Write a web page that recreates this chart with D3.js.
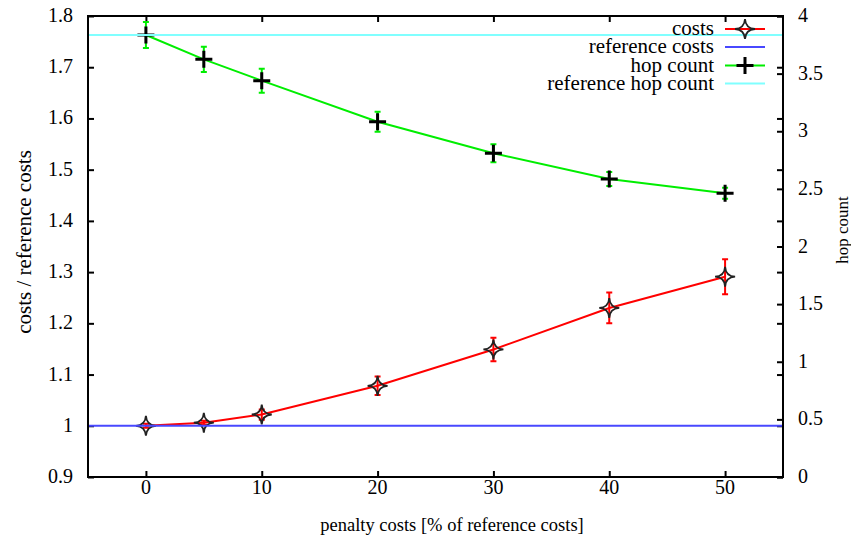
<!DOCTYPE html>
<html>
<head>
<meta charset="utf-8">
<script src="https://cdn.jsdelivr.net/npm/d3@7"></script>
<style>
  body { margin: 0; background: #fff; }
</style>
</head>
<body>
<div class="chart-area"></div>
<script>
var penalty = [0, 5, 10, 20, 30, 40, 50];
var costs = [1.0, 1.006, 1.022, 1.078, 1.149, 1.23, 1.291];
var costErr = [0.004, 0.004, 0.01, 0.018, 0.023, 0.03, 0.034];
var hops = [3.835, 3.624, 3.439, 3.083, 2.809, 2.586, 2.462];
var hopErr = [0.113, 0.11, 0.104, 0.087, 0.078, 0.061, 0.048];
var refCost = 1.0,
    refHop = 3.835;
var xTicks = [0, 10, 20, 30, 40, 50];
var yTicks = [0.9, 1, 1.1, 1.2, 1.3, 1.4, 1.5, 1.6, 1.7, 1.8];
var y2Ticks = [0, 0.5, 1, 1.5, 2, 2.5, 3, 3.5, 4];
var legendNames = ["costs", "reference costs", "hop count", "reference hop count"];

var chartWidth = 851,
    chartHeight = 538,
    plotLeft = 88, plotRight = 783, plotTop = 16, plotBottom = 477,
    tickLen = 6,
    font = "'Liberation Serif', 'Times New Roman', serif",
    svg = d3.select(".chart-area")
            .append("svg")
            .attr("width", chartWidth)
            .attr("height", chartHeight);

var x = d3.scaleLinear().domain([-5, 55]).range([plotLeft, plotRight]),
    y = d3.scaleLinear().domain([0.9, 1.8]).range([plotBottom, plotTop]),
    y2 = d3.scaleLinear().domain([0, 4]).range([plotBottom, plotTop]);

// axes, gnuplot style: ticks inside, mirrored
var fmt = function(d) { return String(d) };
svg.append("g").attr("transform", "translate(0," + plotBottom + ")")
   .call(d3.axisTop(x).tickValues(xTicks).tickSize(tickLen).tickFormat(""));
svg.append("g").attr("transform", "translate(0," + plotTop + ")")
   .call(d3.axisBottom(x).tickValues(xTicks).tickSize(tickLen).tickFormat(""));
svg.append("g").attr("transform", "translate(" + plotLeft + ",0)")
   .call(d3.axisRight(y).tickValues(yTicks).tickSize(tickLen).tickFormat(""));
svg.append("g").attr("transform", "translate(" + plotRight + ",0)")
   .call(d3.axisLeft(y).tickValues(yTicks).tickSize(tickLen).tickFormat(""));
svg.append("g").attr("transform", "translate(" + plotRight + ",0)")
   .call(d3.axisLeft(y2).tickValues(y2Ticks).tickSize(tickLen).tickFormat(""));
svg.selectAll(".domain").remove();
svg.selectAll(".tick line").attr("stroke", "#000").attr("stroke-width", 2);

var addText = function(sel, size) {
  return sel.append("text").style("font-family", font).style("font-size", size + "px").attr("fill", "#000");
};

xTicks.forEach(function(d) {
  addText(svg, 20)
     .attr("x", x(d))
     .attr("y", plotBottom + 17)
     .attr("text-anchor", "middle")
     .text(fmt(d));
});

yTicks.forEach(function(d) {
  addText(svg, 20)
     .attr("x", plotLeft - 15)
     .attr("y", y(d) + 6)
     .attr("text-anchor", "end")
     .text(fmt(d));
});

y2Ticks.forEach(function(d) {
  addText(svg, 20)
     .attr("x", plotRight + 15)
     .attr("y", y2(d) + 6)
     .text(fmt(d));
});

addText(svg, 18.5)
   .attr("x", 452)
   .attr("y", 531)
   .attr("text-anchor", "middle")
   .text("penalty costs [% of reference costs]");

addText(svg, 21)
   .attr("transform", "translate(31,242) rotate(-90)")
   .attr("text-anchor", "middle")
   .text("costs / reference costs");

addText(svg, 17)
   .attr("transform", "translate(848,230) rotate(-90)")
   .attr("text-anchor", "middle")
   .text("hop count");

// marker shapes
var starPath = function(r) {
  var k = r * 0.06;
  return "M0," + (-r) + "Q" + k + "," + (-k) + " " + r + ",0" +
         "Q" + k + "," + k + " 0," + r +
         "Q" + (-k) + "," + k + " " + (-r) + ",0" +
         "Q" + (-k) + "," + (-k) + " 0," + (-r) + "Z";
};
var plusPath = function(r) {
  return "M" + (-r) + ",0H" + r + "M0," + (-r) + "V" + r;
};

function drawSeries(vals, errs, scale, color, marker) {
  var g = svg.append("g");
  g.append("path")
   .datum(vals)
   .attr("fill", "none")
   .attr("stroke", color)
   .attr("stroke-width", 2)
   .attr("d", d3.line()
     .x(function(d, i) { return x(penalty[i]) })
     .y(function(d) { return scale(d) }));
  g.selectAll(".err")
   .data(vals)
   .enter()
   .append("path")
   .attr("fill", "none")
   .attr("stroke", color)
   .attr("stroke-width", 2)
   .attr("d", function(d, i) {
     var cx = x(penalty[i]), t = scale(d + errs[i]), b = scale(d - errs[i]);
     return "M" + cx + "," + t + "V" + b +
            "M" + (cx - 3) + "," + t + "H" + (cx + 3) +
            "M" + (cx - 3) + "," + b + "H" + (cx + 3);
   });
  g.selectAll(".pt")
   .data(vals)
   .enter()
   .append("path")
   .attr("transform", function(d, i) { return "translate(" + x(penalty[i]) + "," + scale(d) + ")" })
   .attr("d", marker == "star" ? starPath(10) : plusPath(8.5))
   .attr("fill", "none")
   .attr("stroke", marker == "star" ? "#222" : "#000")
   .attr("stroke-width", marker == "star" ? 1.8 : 3);
}

function drawRef(v, scale, color) {
  svg.append("line")
     .attr("x1", plotLeft).attr("x2", plotRight)
     .attr("y1", scale(v)).attr("y2", scale(v))
     .attr("stroke", color)
     .attr("stroke-width", 2);
}

drawSeries(costs, costErr, y, "#ff0000", "star");
drawRef(refCost, y, "#4848ff");
drawSeries(hops, hopErr, y2, "#00ee00", "plus");
drawRef(refHop, y2, "#80ffff");

// legend
var legendColors = ["#ff0000", "#4848ff", "#00ee00", "#80ffff"],
    legendMarks = ["star", null, "plus", null],
    legendY = [29, 47, 65.5, 83.5];

var lg = svg.selectAll(".legend")
   .data(legendNames)
   .enter()
   .append("g")
   .attr("transform", function(d, i) { return "translate(0," + legendY[i] + ")" });

addText(lg, 21)
  .attr("x", 714)
  .attr("y", 6)
  .attr("text-anchor", "end")
  .text(function(d) { return d });

lg.append("line")
  .attr("x1", 725).attr("x2", 765)
  .attr("stroke", function(d, i) { return legendColors[i] })
  .attr("stroke-width", 2);

lg.filter(function(d, i) { return legendMarks[i] != null })
  .append("path")
  .attr("transform", "translate(745,0)")
  .attr("d", function(d) { return d == "costs" ? starPath(10) : plusPath(8.5) })
  .attr("fill", "none")
  .attr("stroke", function(d) { return d == "costs" ? "#222" : "#000" })
  .attr("stroke-width", function(d) { return d == "costs" ? 1.8 : 3 });

// frame
svg.append("rect")
   .attr("x", plotLeft).attr("y", plotTop)
   .attr("width", plotRight - plotLeft).attr("height", plotBottom - plotTop)
   .attr("fill", "none")
   .attr("stroke", "#000")
   .attr("stroke-width", 2);
</script>
</body>
</html>
